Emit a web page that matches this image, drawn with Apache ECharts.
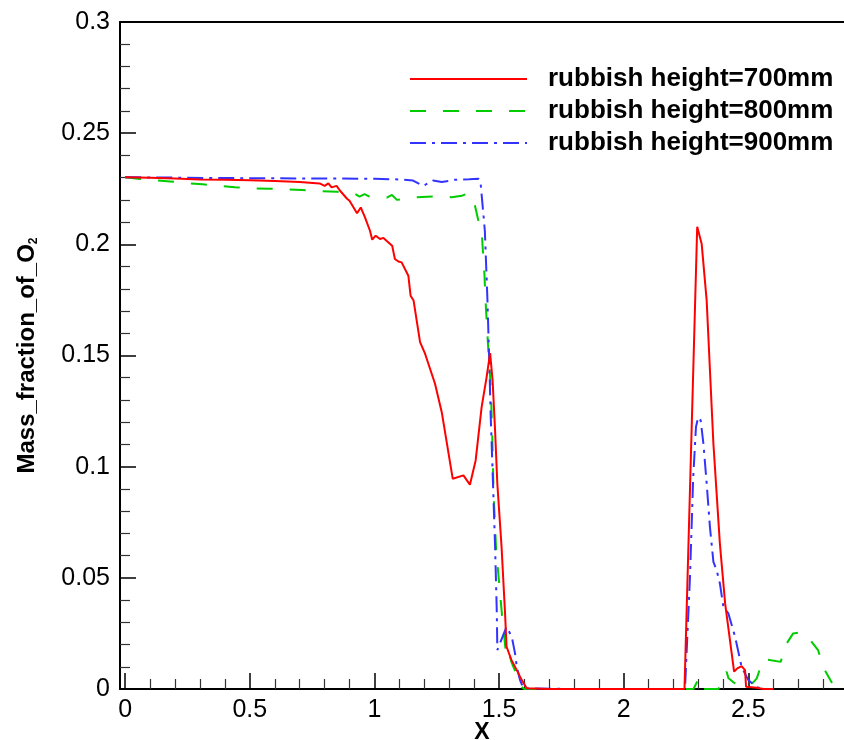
<!DOCTYPE html>
<html>
<head>
<meta charset="utf-8">
<script src="https://cdn.jsdelivr.net/npm/echarts@6/dist/echarts.min.js"></script>
<style>
html,body{margin:0;padding:0;background:#fff;}
#chart{width:844px;height:740px;}
</style>
</head>
<body>
<div id="chart"></div>
<script>
// ---- data ----
const seriesNames = ['rubbish height=700mm', 'rubbish height=800mm', 'rubbish height=900mm'];

const x700 = [0, 0.1, 0.2, 0.3, 0.4, 0.5, 0.6, 0.7, 0.78, 0.80, 0.815, 0.828, 0.848, 0.862, 0.89, 0.90, 0.93, 0.945, 0.962, 0.982, 0.991, 1.005, 1.022, 1.036, 1.071, 1.082, 1.096, 1.109, 1.136, 1.145, 1.157, 1.183, 1.203, 1.243, 1.270, 1.314, 1.357, 1.383, 1.406, 1.430, 1.450, 1.464, 1.474, 1.484, 1.493, 1.510, 1.524, 1.530, 1.550, 1.571, 1.591, 1.611, 1.7, 1.8, 1.9, 2.0, 2.1, 2.2, 2.244, 2.295, 2.313, 2.333, 2.360, 2.386, 2.407, 2.443, 2.456, 2.473, 2.487, 2.491, 2.534, 2.560, 2.6];
const y700 = [0.2302, 0.2300, 0.2296, 0.2292, 0.2290, 0.2288, 0.2285, 0.2280, 0.2274, 0.2263, 0.2274, 0.2256, 0.2263, 0.2241, 0.2205, 0.2196, 0.2140, 0.2166, 0.2121, 0.2061, 0.2021, 0.2039, 0.2024, 0.2029, 0.1994, 0.1934, 0.1923, 0.1919, 0.1859, 0.1769, 0.1747, 0.1560, 0.1508, 0.1373, 0.1245, 0.0946, 0.0961, 0.0919, 0.1028, 0.1268, 0.1403, 0.1511, 0.1388, 0.1163, 0.0924, 0.0639, 0.0340, 0.0190, 0.0130, 0.0085, 0.0040, 0.0003, 0, 0, 0, 0, 0, 0, 0, 0.2079, 0.2001, 0.1747, 0.1103, 0.0654, 0.0385, 0.0078, 0.0093, 0.0103, 0.0085, 0.0010, 0.0006, 0, 0];

const x800 = [0, 0.05, 0.10, 0.18, 0.25, 0.31, 0.38, 0.44, 0.51, 0.58, 0.65, 0.71, 0.78, 0.85, 0.92, 0.94, 0.96, 0.98, 1.05, 1.07, 1.09, 1.12, 1.17, 1.24, 1.31, 1.35, 1.375, 1.40, 1.417, 1.432, 1.441, 1.447, 1.455, 1.467, 1.473, 1.478, 1.488, 1.500, 1.512, 1.524, 1.528, 1.535, 1.550, 1.572, 1.59, 1.60, 1.8, 2.0, 2.2, 2.28, 2.300, 2.306, 2.35, 2.38, 2.40, 2.413, 2.42, 2.44, 2.46, 2.49, 2.50, 2.52, 2.534, 2.56, 2.63, 2.65, 2.68, 2.71, 2.735, 2.78, 2.80, 2.836];
const y800 = [0.2302, 0.2295, 0.2289, 0.2283, 0.2274, 0.2270, 0.2262, 0.2257, 0.2252, 0.2250, 0.2247, 0.2244, 0.2240, 0.2236, 0.2228, 0.2215, 0.2226, 0.2215, 0.2210, 0.2222, 0.2200, 0.2205, 0.2212, 0.2216, 0.2212, 0.2218, 0.2230, 0.2190, 0.2106, 0.2025, 0.1870, 0.1720, 0.1560, 0.1350, 0.1120, 0.0880, 0.0630, 0.0480, 0.0330, 0.0200, 0.0160, 0.0180, 0.0120, 0.0060, 0.0010, 0, 0, 0, 0, 0, 0.0045, 0, 0, 0, 0.0036, 0.0078, 0.0050, 0.0030, 0.0020, 0.0020, 0.0015, 0.0030, 0.0048, 0.0135, 0.0122, 0.0198, 0.0250, 0.0255, 0.0240, 0.0175, 0.0099, 0.0027];

const x900 = [0, 0.2, 0.4, 0.6, 0.8, 1.0, 1.1, 1.155, 1.195, 1.235, 1.27, 1.32, 1.38, 1.417, 1.425, 1.437, 1.443, 1.453, 1.461, 1.466, 1.473, 1.484, 1.491, 1.493, 1.530, 1.551, 1.564, 1.571, 1.584, 1.598, 1.8, 2.0, 2.2, 2.246, 2.266, 2.279, 2.290, 2.299, 2.309, 2.320, 2.333, 2.346, 2.360, 2.373, 2.386, 2.400, 2.420, 2.447, 2.473, 2.500, 2.534, 2.56];
const y900 = [0.2302, 0.2300, 0.2298, 0.2297, 0.2296, 0.2295, 0.2292, 0.2287, 0.2263, 0.2287, 0.2280, 0.2290, 0.2293, 0.2295, 0.2286, 0.2136, 0.2060, 0.1760, 0.1460, 0.1240, 0.1015, 0.0640, 0.0340, 0.0175, 0.0280, 0.0235, 0.0160, 0.0100, 0.0040, 0.0003, 0, 0, 0, 0, 0.0504, 0.0953, 0.1178, 0.1223, 0.1208, 0.1103, 0.0924, 0.0729, 0.0572, 0.0534, 0.0475, 0.0370, 0.0340, 0.0235, 0.0100, 0.0040, 0.0008, 0];

const xTickValues = [0, 0.5, 1, 1.5, 2, 2.5];
const xTickLabels = ['0', '0.5', '1', '1.5', '2', '2.5'];
const xMinorTickValues = [0.1, 0.2, 0.3, 0.4, 0.6, 0.7, 0.8, 0.9, 1.1, 1.2, 1.3, 1.4, 1.6, 1.7, 1.8, 1.9, 2.1, 2.2, 2.3, 2.4, 2.6, 2.7, 2.8];
const yTickLabels = ['0', '0.05', '0.1', '0.15', '0.2', '0.25', '0.3'];

// ---- helpers ----
function zip(xs, ys) { return xs.map((x, i) => [x, ys[i]]); }

const FONT = 'Liberation Sans, Arial, sans-serif';
const X_MIN = -0.021, X_MAX = 2.884;

const chart = echarts.init(document.getElementById('chart'), null, { renderer: 'canvas' });

const option = {
  animation: false,
  backgroundColor: '#ffffff',
  grid: { left: 120, right: 0, top: 22, bottom: 51, containLabel: false, outerBoundsMode: 'none' },
  legend: {
    orient: 'vertical',
    left: 409,
    top: 66,
    padding: 0,
    itemWidth: 117,
    itemHeight: 14,
    itemGap: 6,
    data: seriesNames,
    itemStyle: { color: 'rgba(0,0,0,0)', borderColor: 'rgba(0,0,0,0)', borderWidth: 0 },
    textStyle: {
      fontFamily: FONT, fontSize: 26, fontWeight: 'bold', color: '#000',
      lineHeight: 26, padding: [0, 0, 0, 16]
    }
  },
  xAxis: [
    {
      type: 'value', min: X_MIN, max: X_MAX, position: 'bottom',
      name: 'X', nameLocation: 'middle', nameGap: 32, nameMoveOverlap: false,
      nameTextStyle: { fontFamily: FONT, fontSize: 23, fontWeight: 'bold', color: '#000' },
      axisLine: { show: true, onZero: false, lineStyle: { color: '#000', width: 2 } },
      axisTick: { show: true, inside: true, length: 16, customValues: xTickValues, lineStyle: { color: '#000', width: 1.5 } },
      axisLabel: {
        show: true, margin: 9, fontFamily: FONT, fontSize: 25, color: '#000',
        customValues: xTickValues,
        formatter: function (v) {
          const i = xTickValues.findIndex(t => Math.abs(t - v) < 1e-6);
          return i >= 0 ? xTickLabels[i] : '';
        }
      },
      splitLine: { show: false }
    },
    {
      type: 'value', min: X_MIN, max: X_MAX, position: 'bottom',
      axisLine: { show: false, onZero: false },
      axisTick: { show: true, inside: true, length: 10, customValues: xMinorTickValues, lineStyle: { color: '#333', width: 1.2 } },
      axisLabel: { show: false },
      splitLine: { show: false }
    },
    {
      type: 'value', min: X_MIN, max: X_MAX, position: 'top',
      axisLine: { show: true, onZero: false, lineStyle: { color: '#000', width: 2 } },
      axisTick: { show: false },
      axisLabel: { show: false },
      splitLine: { show: false }
    }
  ],
  yAxis: [
    {
      type: 'value', min: 0, max: 0.3, interval: 0.05, position: 'left',
      name: '{a|Mass_fraction_of_O}{s|2}', nameLocation: 'middle', nameGap: 80, nameRotate: 90,
      nameTextStyle: {
        color: '#000',
        rich: {
          a: { fontFamily: FONT, fontSize: 24, fontWeight: 'bold', color: '#000', lineHeight: 26 },
          s: { fontFamily: FONT, fontSize: 12, fontWeight: 'bold', color: '#000', lineHeight: 10, verticalAlign: 'bottom' }
        }
      },
      axisLine: { show: true, onZero: false, lineStyle: { color: '#000', width: 2 } },
      axisTick: { show: true, inside: true, length: 16, lineStyle: { color: '#000', width: 1.5 } },
      minorTick: { show: true, splitNumber: 5, length: 10, lineStyle: { color: '#333', width: 1.2 } },
      axisLabel: {
        margin: 10, fontFamily: FONT, fontSize: 25, color: '#000',
        formatter: function (v) {
          const k = Math.round(v / 0.05);
          return yTickLabels[k] !== undefined ? yTickLabels[k] : '';
        }
      },
      splitLine: { show: false },
      minorSplitLine: { show: false }
    }
  ],
  series: [
    {
      name: seriesNames[0], type: 'line', xAxisIndex: 0, yAxisIndex: 0,
      data: zip(x700, y700), symbol: 'none', showSymbol: false, smooth: false,
      lineStyle: { color: '#ff0000', width: 2, type: 'solid' },
      itemStyle: { color: '#ff0000' }, z: 5
    },
    {
      name: seriesNames[1], type: 'line', xAxisIndex: 0, yAxisIndex: 0,
      data: zip(x800, y800), symbol: 'none', showSymbol: false, smooth: false,
      lineStyle: { color: '#00cc00', width: 2, type: [16, 17] },
      itemStyle: { color: '#00cc00' }, z: 3
    },
    {
      name: seriesNames[2], type: 'line', xAxisIndex: 0, yAxisIndex: 0,
      data: zip(x900, y900), symbol: 'none', showSymbol: false, smooth: false,
      lineStyle: { color: '#3333ff', width: 2, type: [16, 6, 3, 6] },
      itemStyle: { color: '#3333ff' }, z: 4
    }
  ]
};

chart.setOption(option);
</script>
</body>
</html>
